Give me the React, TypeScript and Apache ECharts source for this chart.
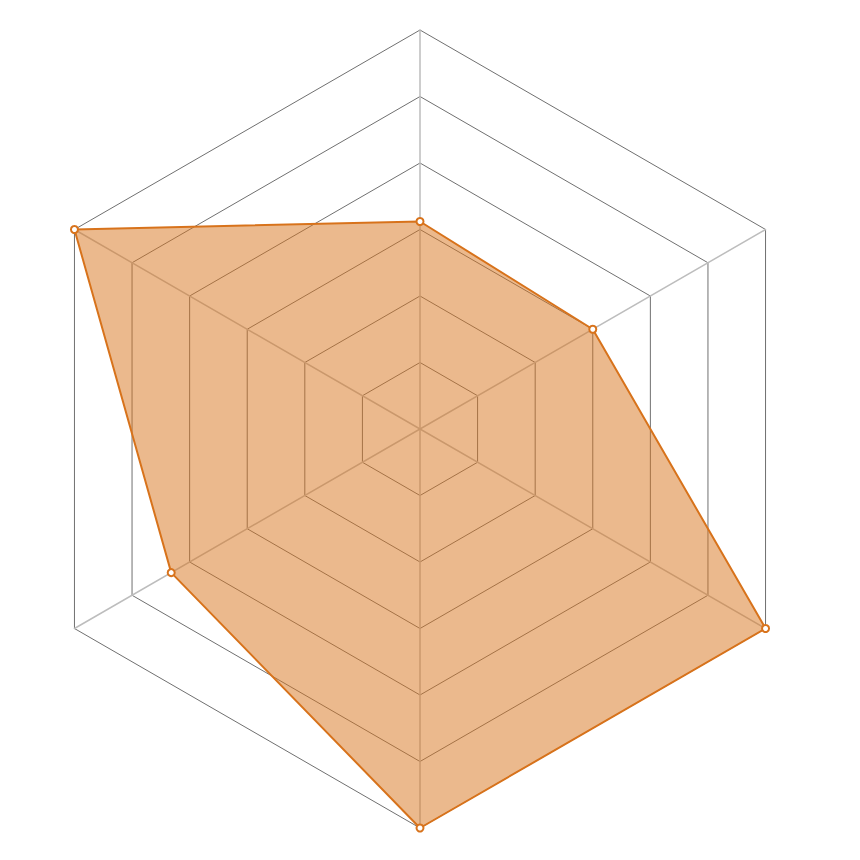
import React, { useEffect, useRef } from 'react';
import * as echarts from 'echarts';

// indicators go counter-clockwise from the top
const indicators = ['A', 'B', 'C', 'D', 'E', 'F'];
const maxValue = 100;
const values = [52, 100, 72, 100, 100, 50];

const App: React.FC = () => {
    const chartRef = useRef<HTMLDivElement>(null);

    useEffect(() => {
        if (!chartRef.current) return;
        const chart = echarts.init(chartRef.current, undefined, { renderer: 'svg' });

        const option: echarts.EChartsOption = {
            animation: false,
            radar: {
                center: [412, 421],
                radius: 399,
                startAngle: 90,
                splitNumber: 6,
                shape: 'polygon',
                indicator: indicators.map((name) => ({ name, max: maxValue })),
                axisName: { show: false },
                axisLine: { lineStyle: { color: '#bdbdbd', width: 1.5 } },
                splitLine: { lineStyle: { color: '#707070', width: 1 } },
                splitArea: { show: false },
            },
            series: [
                {
                    type: 'radar',
                    symbol: 'emptyCircle',
                    symbolSize: 7,
                    lineStyle: { color: '#d8731c', width: 2 },
                    itemStyle: { color: '#d8731c', borderWidth: 2 },
                    areaStyle: { color: '#d8731c', opacity: 0.5 },
                    data: [{ value: values }],
                },
            ],
        };

        chart.setOption(option);
        return () => chart.dispose();
    }, []);

    return <div ref={chartRef} style={{ width: 844, height: 844 }} />;
};

export default App;
